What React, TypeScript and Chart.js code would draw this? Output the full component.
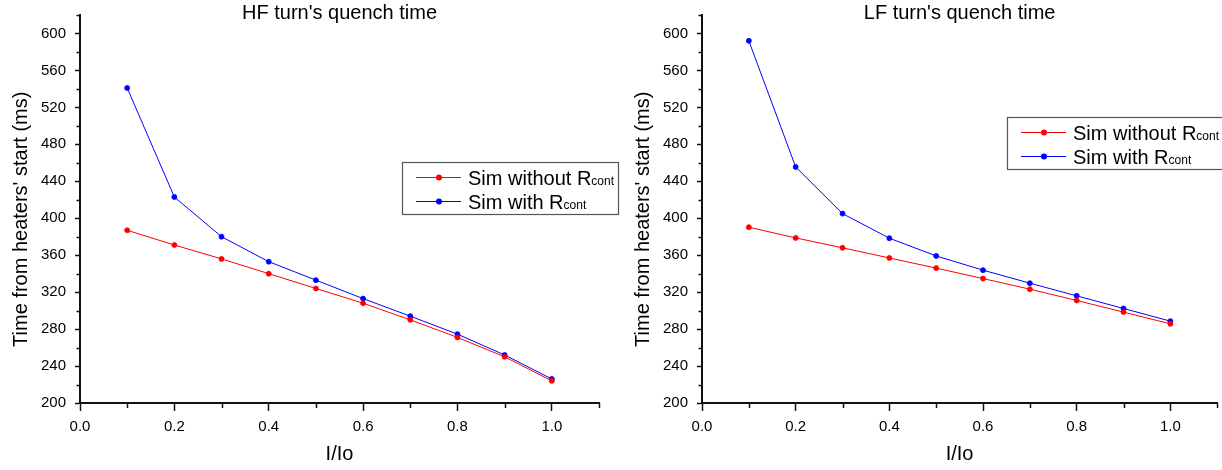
import React, { useEffect, useRef } from "react";
import { Chart, registerables } from "chart.js";

Chart.register(...registerables);

// ---------- data ----------
const xValues = [0.1, 0.2, 0.3, 0.4, 0.5, 0.6, 0.7, 0.8, 0.9, 1.0];
const hfWithout = [387, 371, 356, 340, 324, 308, 290, 271, 250, 224];
const hfWith = [541, 423, 380, 353, 333, 313, 294, 274.5, 252, 226];
const lfWithout = [390.3, 378.7, 368, 357, 346, 334.7, 323.2, 311, 298.4, 285.7];
const lfWith = [592, 455.5, 405, 378.4, 359.2, 343.8, 329.7, 316, 302.3, 288.6];

const chartTitles = ["HF turn's quench time", "LF turn's quench time"];
const seriesNames = ["Sim without R", "Sim with R"];
const seriesSub = "cont";
const seriesColors = ["#ff0000", "#0000ff"];
const xAxisTitle = "I/Io";
const yAxisTitle = "Time from heaters' start (ms)";

const xMin = 0;
const xMax = 1.1;
const xMajorStep = 0.2;
const xMinorTicks = [0.1, 0.3, 0.5, 0.7, 0.9, 1.1];
const yMin = 200;
const yMax = 620;
const yMajorStep = 40;
const yMinorTicks = [220, 260, 300, 340, 380, 420, 460, 500, 540, 580, 620];

// ---------- style ----------
const FONT = '"Liberation Sans", Arial, Helvetica, sans-serif';
const AXIS = "#111";
const H = 470;

type PanelCfg = {
  left: number;
  width: number;
  yWidth: number;
  padRight: number;
  legendX: number;
  legendY: number;
  yTitleBaseX: number;
  title: string;
  without: number[];
  withR: number[];
};

const panels: PanelCfg[] = [
  {
    left: 0,
    width: 620,
    yWidth: 80,
    padRight: 21,
    legendX: 402,
    legendY: 162,
    yTitleBaseX: 27,
    title: chartTitles[0],
    without: hfWithout,
    withR: hfWith,
  },
  {
    left: 611,
    width: 611,
    yWidth: 91,
    padRight: 0,
    legendX: 396,
    legendY: 117,
    yTitleBaseX: 38,
    title: chartTitles[1],
    without: lfWithout,
    withR: lfWith,
  },
];

function makeDecor(cfg: PanelCfg) {
  return {
    id: "decor",
    afterDraw(chart: any) {
      const ctx: CanvasRenderingContext2D = chart.ctx;
      const ca = chart.chartArea;
      const xs = chart.scales.x;
      const ys = chart.scales.y;
      ctx.save();

      // minor ticks
      ctx.strokeStyle = AXIS;
      ctx.lineWidth = 1.5;
      ctx.beginPath();
      xMinorTicks.forEach((v) => {
        const px = Math.round(xs.getPixelForValue(v)) + 0.5;
        ctx.moveTo(px, ca.bottom);
        ctx.lineTo(px, ca.bottom + 5);
      });
      yMinorTicks.forEach((v) => {
        const py = Math.round(ys.getPixelForValue(v)) + 0.5;
        ctx.moveTo(ca.left, py);
        ctx.lineTo(ca.left - 3.5, py);
      });
      ctx.stroke();

      ctx.fillStyle = "#000";
      // chart title
      ctx.font = `20px ${FONT}`;
      ctx.textAlign = "center";
      ctx.textBaseline = "alphabetic";
      ctx.fillText(cfg.title, (ca.left + ca.right) / 2, 19);

      // x title
      ctx.fillText(xAxisTitle, (ca.left + ca.right) / 2, 460);

      // y title
      const yMid = (ys.getPixelForValue(200) + ys.getPixelForValue(600)) / 2 + 1;
      ctx.save();
      ctx.translate(cfg.yTitleBaseX, yMid);
      ctx.rotate(-Math.PI / 2);
      ctx.fillText(yAxisTitle, 0, 0);
      ctx.restore();

      // legend
      const lx = cfg.legendX;
      const ly = cfg.legendY;
      ctx.strokeStyle = "#555";
      ctx.lineWidth = 1.2;
      ctx.strokeRect(lx + 0.5, ly + 0.5, 216, 52);
      const rows = [ly + 15.5, ly + 39.5];
      rows.forEach((ry, i) => {
        const col = seriesColors[i];
        ctx.strokeStyle = col;
        ctx.lineWidth = 1;
        ctx.beginPath();
        ctx.moveTo(lx + 14, ry);
        ctx.lineTo(lx + 59, ry);
        ctx.stroke();
        ctx.fillStyle = col;
        ctx.beginPath();
        ctx.arc(lx + 37, ry, 3, 0, Math.PI * 2);
        ctx.fill();
        ctx.fillStyle = "#000";
        ctx.textAlign = "left";
        ctx.font = `20px ${FONT}`;
        const tx = lx + 66;
        ctx.fillText(seriesNames[i], tx, ry + 7);
        const w = ctx.measureText(seriesNames[i]).width;
        ctx.font = `12px ${FONT}`;
        ctx.fillText(seriesSub, tx + w, ry + 7.5);
      });

      ctx.restore();
    },
  };
}

function Panel({ cfg }: { cfg: PanelCfg }) {
  const ref = useRef<HTMLCanvasElement>(null);
  useEffect(() => {
    const tickFont = { family: FONT, size: 15 };
    const mk = (vals: number[], i: number) => ({
      label: seriesNames[i],
      data: xValues.map((x, k) => ({ x, y: vals[k] })),
      borderColor: seriesColors[i],
      backgroundColor: seriesColors[i],
      pointBackgroundColor: seriesColors[i],
      pointBorderColor: seriesColors[i],
      borderWidth: 1,
      pointRadius: 2.5,
      pointBorderWidth: 0.8,
      tension: 0,
      fill: false,
    });
    const chart = new Chart(ref.current as HTMLCanvasElement, {
      type: "line",
      data: { datasets: [mk(cfg.without, 0), mk(cfg.withR, 1)] as any },
      options: {
        animation: false,
        responsive: false,
        devicePixelRatio: 1,
        layout: { padding: { top: 15, right: cfg.padRight, left: 0, bottom: 0 } },
        plugins: {
          legend: { display: false },
          title: { display: false },
          tooltip: { enabled: false },
        },
        scales: {
          x: {
            type: "linear",
            min: xMin,
            max: xMax,
            afterFit: (s: any) => {
              s.height = H - 403;
              s.paddingLeft = 0;
              s.paddingRight = 0;
              s.paddingTop = 0;
              s.paddingBottom = 0;
            },
            ticks: {
              stepSize: xMajorStep,
              includeBounds: false,
              autoSkip: false,
              maxRotation: 0,
              padding: 7,
              color: "#000",
              font: tickFont,
              callback: (v: any) => Number(v).toFixed(1),
            },
            grid: {
              display: true,
              drawOnChartArea: false,
              drawTicks: true,
              tickLength: 8,
              tickColor: AXIS,
              tickWidth: 1.5,
            },
            border: { display: true, color: AXIS, width: 2 },
          },
          y: {
            type: "linear",
            min: yMin,
            max: yMax,
            afterFit: (s: any) => {
              s.width = cfg.yWidth;
              s.paddingLeft = 0;
              s.paddingRight = 0;
              s.paddingTop = 0;
              s.paddingBottom = 0;
            },
            ticks: {
              stepSize: yMajorStep,
              includeBounds: false,
              autoSkip: false,
              padding: 9,
              color: "#000",
              font: tickFont,
              callback: (v: any) => String(v),
            },
            grid: {
              display: true,
              drawOnChartArea: false,
              drawTicks: true,
              tickLength: 5,
              tickColor: AXIS,
              tickWidth: 1.5,
            },
            border: { display: true, color: AXIS, width: 2 },
          },
        },
      } as any,
      plugins: [makeDecor(cfg)],
    });
    return () => chart.destroy();
  }, [cfg]);
  return (
    <canvas
      ref={ref}
      width={cfg.width}
      height={H}
      style={{ position: "absolute", left: cfg.left, top: 0, width: cfg.width, height: H }}
    />
  );
}

export default function App() {
  return (
    <div
      style={{
        position: "absolute",
        left: 0,
        top: 0,
        width: 1222,
        height: H,
        background: "#fff",
        overflow: "hidden",
      }}
    >
      {panels.map((p, i) => (
        <Panel key={i} cfg={p} />
      ))}
    </div>
  );
}
